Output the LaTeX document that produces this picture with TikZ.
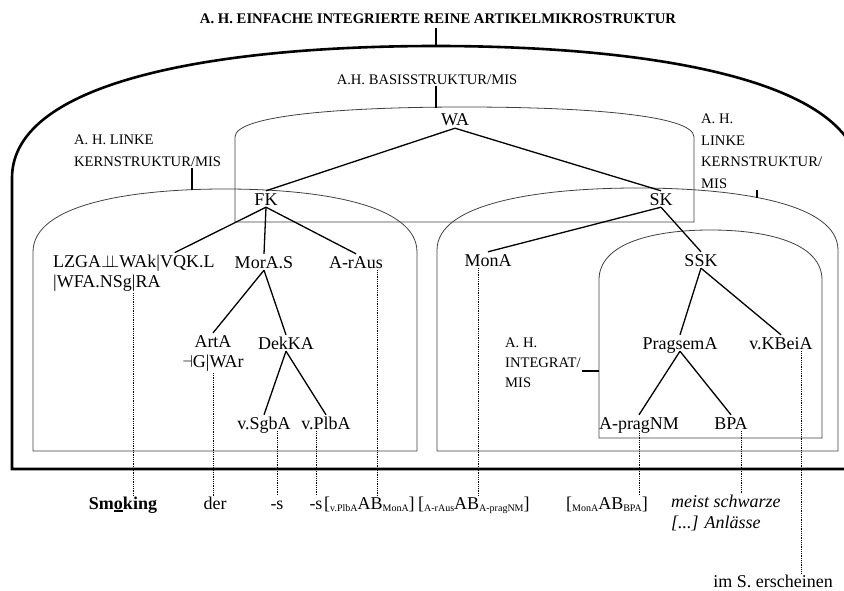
\documentclass[tikz,border=0pt]{standalone}
\usepackage{fontspec}
\setmainfont{Liberation Serif}
% Kuppelrahmen: [Stil] links, rechts, unten, Schulter, Scheitel
\newcommand{\kuppel}[6][]{%
  \draw[#1] (#2,#4) -- (#2,#5)
    .. controls (#2,{#5-0.75*(#5-#6)}) and ({#2+0.25*(#3-#2)},#6) .. ({(#2+#3)/2},#6)
    .. controls ({#3-0.25*(#3-#2)},#6) and (#3,{#5-0.75*(#5-#6)}) .. (#3,#5)
    -- (#3,#4) -- cycle;}
\newcommand{\klein}[1]{\raisebox{-0.35ex}{\fontsize{10}{10}\selectfont #1}}
\newcommand{\abpaar}[2]{[\klein{#1}AB\klein{#2}]}
\begin{document}
\begin{tikzpicture}[x=1pt, y=-1pt,
      punkt/.style={font=\fontsize{18}{20}\selectfont, inner sep=2pt,
        text height=12pt, text depth=0pt},
      zweizeilig/.style={font=\fontsize{18}{20}\selectfont, inner sep=2pt},
      etikett/.style={font=\fontsize{14.6}{21.5}\selectfont, align=left,
        inner sep=1pt, anchor=west},
      unten/.style={font=\fontsize{18}{21}\selectfont, inner sep=1pt,
        text height=12pt, text depth=0pt},
      ast/.style={line width=1.3pt},
      huelle/.style={line width=0.8pt, draw=black!75},
      aussen/.style={line width=2.6pt},
      stummel/.style={line width=1.4pt},
      punktiert/.style={densely dotted, line width=0.8pt}
    ]
    \useasboundingbox (0,0) rectangle (844,591);
    \clip (0,0) rectangle (844,591);
    % Rahmen
    \kuppel[aussen]{12}{860}{469}{178}{46}
    \kuppel[huelle]{235}{694}{222}{137}{107}
    \kuppel[huelle]{33}{417}{451}{252}{189}
    \kuppel[huelle]{437}{838}{451}{250}{188}
    \kuppel[huelle]{599}{822}{438}{280}{230}
    \coordinate (titelfuss) at (436,46);
    \coordinate (basisdach) at (436,108);
    \coordinate (lksdach) at (192,190);
    \coordinate (rksdach) at (757,198);
    \coordinate (intwand) at (599,371);
    % Beschriftungen
    \path (438,19) node(titel) [font=\fontsize{14.7}{16}\selectfont\bfseries]
      {A. H. EINFACHE INTEGRIERTE REINE ARTIKELMIKROSTRUKTUR}
    (427,80) node(basis) [etikett, anchor=center] {A.H. BASISSTRUKTUR/MIS}
    (73,151) node(lks) [etikett] {A. H. LINKE\\KERNSTRUKTUR/MIS}
    (700,151.5) node(rks) [etikett] {A. H.\\LINKE\\KERNSTRUKTUR/\\MIS}
    (504,363) node(integrat) [etikett, font=\fontsize{14.6}{20}\selectfont]
      {A. H.\\INTEGRAT/\\MIS};
    \draw[aussen] (titel.south -| titelfuss) -- (titelfuss);
    \draw[stummel] (basis.south -| basisdach) -- (basisdach);
    \draw[stummel] (lks.south -| lksdach) -- (lksdach);
    \draw[stummel] (rks.south -| rksdach) -- (rksdach);
    \draw[stummel] (integrat.east |- intwand) -- (intwand);
    % Baum
    \path (455,120) node(WA) [punkt] {WA}
    (266,199) node(FK) [punkt] {FK}
    (661,199) node(SK) [punkt] {SK}
    (51,273) node(LZGA) [zweizeilig, align=left, anchor=west]
      {LZGA$\perp\mkern-9mu\perp$WAk|VQK.L\\|WFA.NSg|RA}
    (264,262) node(MorA) [punkt] {MorA.S}
    (356,262) node(ArAus) [punkt] {A-rAus}
    (213,353) node(ArtA) [zweizeilig, align=center] {ArtA\\$\dashv$G|WAr}
    (286,343) node(DekKA) [punkt] {DekKA}
    (264,423) node(SgbA) [punkt] {v.SgbA}
    (326,423) node(PlbA) [punkt] {v.PlbA}
    (488,260) node(MonA) [punkt] {MonA}
    (701,260) node(SSK) [punkt] {SSK}
    (680,343) node(Pragsem) [punkt] {PragsemA}
    (781,343) node(KBei) [punkt] {v.KBeiA}
    (639,423) node(ApragNM) [punkt] {A-pragNM}
    (731,423) node(BPA) [punkt] {BPA};
    \draw[ast] (WA.south) -- (FK.north);
    \draw[ast] (WA.south) -- (SK.north);
    \draw[ast] (FK.south) -- (LZGA);
    \draw[ast] (FK.south) -- (MorA.north);
    \draw[ast] (FK.south) -- (ArAus.north);
    \draw[ast] (MorA.south) -- (ArtA.north);
    \draw[ast] (MorA.south) -- (DekKA.north);
    \draw[ast] (DekKA.south) -- (SgbA.north);
    \draw[ast] (DekKA.south) -- (PlbA.north);
    \draw[ast] (SK.south) -- (MonA.north);
    \draw[ast] (SK.south) -- (SSK.north);
    \draw[ast] (SSK.south) -- (Pragsem.north);
    \draw[ast] (SSK.south) -- (KBei.north);
    \draw[ast] (Pragsem.south) -- (ApragNM.north);
    \draw[ast] (Pragsem.south) -- (BPA.north);
    % Textzeile
    \path (123,503) node(smoking) [unten, font=\fontsize{18}{21}\selectfont\bfseries]
      {Smo\llap{\rule[-2.8pt]{9pt}{1.6pt}}king}
    (215,503) node(der) [unten] {der}
    (277,503) node(s1) [unten] {-s}
    (316,503) node(s2) [unten] {-s}
    (323,503) node(ab1) [unten, anchor=west] {\abpaar{v.PlbA}{MonA}}
    (417,503) node(ab2) [unten, anchor=west] {\abpaar{A-rAus}{A-pragNM}}
    (565,503) node(ab3) [unten, anchor=west] {\abpaar{MonA}{BPA}}
    (670,513) node(meist) [zweizeilig, inner sep=1pt, align=left, anchor=west,
      font=\fontsize{18}{21}\selectfont\itshape] {meist schwarze\\{[...]} Anlässe}
    (773,581) node(imS) [unten, inner sep=0.5pt] {im S. erscheinen};
    \draw[punktiert] (LZGA.south) -- (LZGA.south |- smoking.north);
    \draw[punktiert] (ArtA.south) -- (ArtA.south |- der.north);
    \draw[punktiert] (s1.north |- SgbA.south) -- (s1.north);
    \draw[punktiert] (s2.north |- PlbA.south) -- (s2.north);
    \draw[punktiert] ([xshift=21pt]ArAus.south) -- ([xshift=21pt]ArAus.south |- ab1.north);
    \draw[punktiert] ([xshift=-10pt]MonA.south) -- ([xshift=-10pt]MonA.south |- ab2.north);
    \draw[punktiert] (ApragNM.south) -- (ApragNM.south |- ab3.north);
    \draw[punktiert] ([xshift=10pt]BPA.south) -- ([xshift=10pt]BPA.south |- meist.north);
    \draw[punktiert] ([xshift=20pt]KBei.south) -- ([xshift=20pt]KBei.south |- imS.north);
  \end{tikzpicture}
\end{document}
